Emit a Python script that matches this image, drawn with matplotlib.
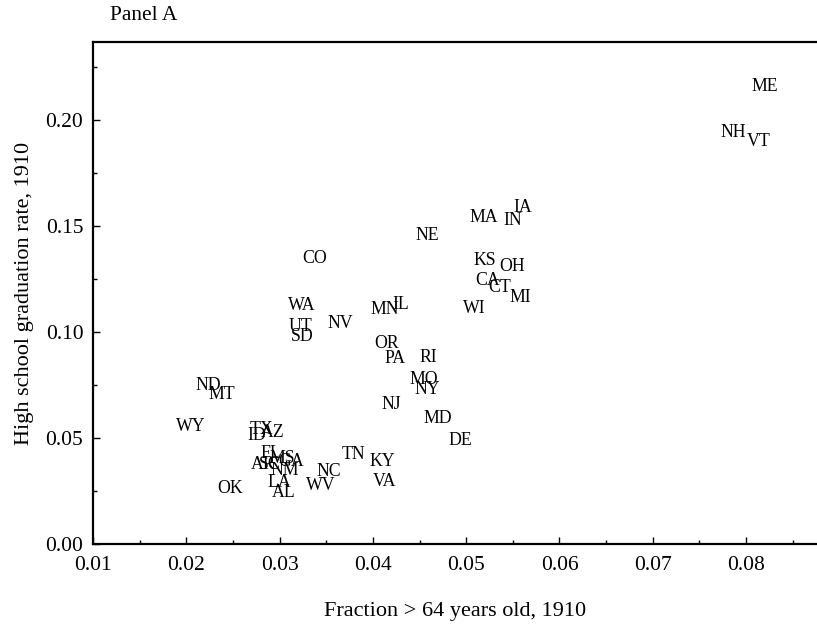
import matplotlib
matplotlib.use("Agg")
import matplotlib.pyplot as plt
from matplotlib.ticker import MultipleLocator

plt.rcParams['font.family'] = ['Liberation Serif', 'DejaVu Serif']

# state labels, share of population over 64 (x) and HS graduation rate (y), 1910
states = ['ME', 'NH', 'VT', 'MA', 'IN', 'IA', 'KS', 'OH', 'CA', 'CT', 'MI', 'WI',
          'WA', 'UT', 'SD', 'NV', 'MN', 'IL', 'OR', 'PA', 'RI', 'MO', 'NY', 'NJ',
          'MD', 'DE', 'TX', 'AZ', 'ID', 'FL', 'MS', 'GA', 'AR', 'SC', 'NM', 'LA',
          'AL', 'OK', 'WV', 'NC', 'TN', 'KY', 'VA', 'WY', 'ND', 'MT', 'CO', 'NE']
frac_old = [0.0820, 0.0786, 0.0814, 0.0519, 0.0550, 0.0561, 0.0520, 0.0549, 0.0523, 0.0536, 0.0558, 0.0509,
            0.0324, 0.0322, 0.0324, 0.0365, 0.0413, 0.0430, 0.0415, 0.0424, 0.0459, 0.0455, 0.0458, 0.0420,
            0.0470, 0.0494, 0.0281, 0.0293, 0.0276, 0.0291, 0.0303, 0.0312, 0.0282, 0.0289, 0.0305, 0.0300,
            0.0304, 0.0247, 0.0344, 0.0353, 0.0379, 0.0410, 0.0412, 0.0205, 0.0224, 0.0238, 0.0338, 0.0458]
hs_grad = [0.2156, 0.1943, 0.1901, 0.1538, 0.1528, 0.1585, 0.1335, 0.1307, 0.1241, 0.1212, 0.1165, 0.1113,
           0.1123, 0.1028, 0.0981, 0.1042, 0.1104, 0.1132, 0.0948, 0.0873, 0.0882, 0.0778, 0.0731, 0.0660,
           0.0594, 0.0486, 0.0542, 0.0528, 0.0514, 0.0429, 0.0401, 0.0387, 0.0373, 0.0377, 0.0349, 0.0292,
           0.0241, 0.0264, 0.0278, 0.0340, 0.0420, 0.0387, 0.0297, 0.0552, 0.0750, 0.0703, 0.1349, 0.1453]

fig = plt.figure(figsize=(8.17, 6.27), dpi=100)
ax = fig.add_axes([93/817, 83/627, 724/817, 502/627])

for s, x, y in zip(states, frac_old, hs_grad):
    ax.text(x, y, s, ha='center', va='center', fontsize=12.8)

ax.set_xlim(0.01, 0.0876)
ax.set_ylim(0, 0.2368)
ax.xaxis.set_major_locator(MultipleLocator(0.01))
ax.xaxis.set_minor_locator(MultipleLocator(0.005))
ax.yaxis.set_major_locator(MultipleLocator(0.05))
ax.yaxis.set_minor_locator(MultipleLocator(0.025))
ax.xaxis.set_major_formatter(plt.FormatStrFormatter('%.2f'))
ax.yaxis.set_major_formatter(plt.FormatStrFormatter('%.2f'))

ax.tick_params(which='both', direction='in', top=False, right=False, labelsize=15.5, width=1)
ax.tick_params(which='major', length=5)
ax.tick_params(which='minor', length=3)
ax.tick_params(axis='y', pad=7)
ax.tick_params(axis='x', pad=9)

for sp in ['left', 'bottom', 'top']:
    ax.spines[sp].set_linewidth(1.6)
ax.spines['right'].set_visible(False)

ax.set_xlabel('Fraction > 64 years old, 1910', fontsize=16)
ax.set_ylabel('High school graduation rate, 1910', fontsize=16)
ax.xaxis.set_label_coords(0.5, -0.115)
ax.yaxis.set_label_coords(-0.081, 0.5)

fig.text(110/817, 1 - 15/627, 'Panel A', ha='left', va='center', fontsize=15.5)

fig.savefig('out.png', dpi=100)
